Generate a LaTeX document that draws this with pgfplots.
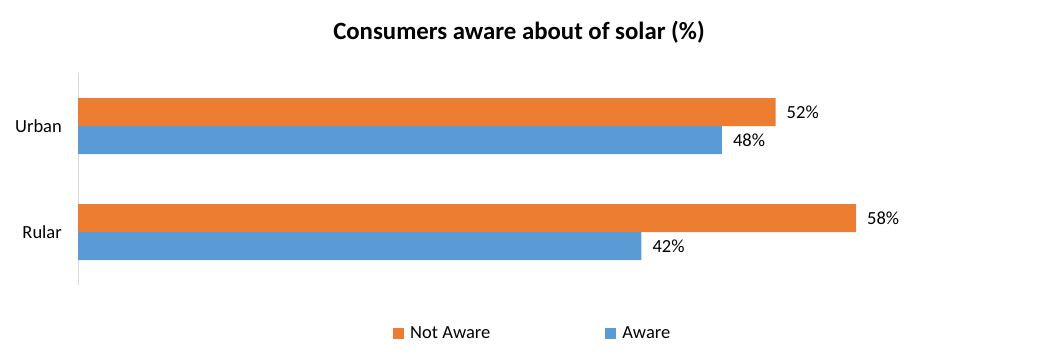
\documentclass[border=0pt]{standalone}
\usepackage{pgfplots}
\pgfplotsset{compat=1.18}
\usepackage{fontspec}
\setmainfont{Carlito}
\definecolor{cOrange}{HTML}{ED7D31}
\definecolor{cBlue}{HTML}{5B9BD5}
\definecolor{cAxis}{HTML}{D9D9D9}
\begin{document}
\begin{tikzpicture}
\useasboundingbox (0,0) rectangle (1040bp,-355bp);
\node[font=\fontsize{24.8bp}{29bp}\selectfont\bfseries] at (519bp,-32bp) {Consumers aware about of solar (\%)};
\begin{axis}[
  at={(78bp,-285bp)}, anchor=south west,
  scale only axis, width=939bp, height=212bp,
  xmin=0, xmax=70, ymin=-0.5, ymax=1.5,
  axis x line=none,
  axis y line*=left,
  y axis line style={draw=cAxis, line width=0.8bp, -},
  ytick={0,1}, yticklabels={Rular,Urban},
  major tick length=0pt,
  yticklabel style={font=\fontsize{18.5bp}{22bp}\selectfont, inner sep=0pt, xshift=-16bp},
  xbar, bar width=28bp,
  /pgf/number format/assume math mode=true,
  nodes near coords={\pgfmathprintnumber{\pgfplotspointmeta}\%},
  every node near coord/.append style={font=\fontsize{18.5bp}{22bp}\selectfont, inner sep=0pt, xshift=11bp, anchor=west},
  legend style={at={(0.3355,-0.228)}, anchor=west, draw=none, fill=none, legend columns=2,
    font=\fontsize{18.5bp}{22bp}\selectfont, inner sep=0pt, row sep=0pt,
    /tikz/every odd column/.append style={column sep=4bp},
    /tikz/every even column/.append style={column sep=113bp}},
  legend cell align=left,
  legend image code/.code={\fill[#1] (0bp,-5.5bp) rectangle (11bp,5.5bp);},
]
\addplot[draw=none, fill=cOrange, bar shift=14bp] coordinates {(58,0) (52,1)};
\addplot[draw=none, fill=cBlue, bar shift=-14bp] coordinates {(42,0) (48,1)};
\legend{Not Aware, Aware}
\end{axis}
\end{tikzpicture}
\end{document}
